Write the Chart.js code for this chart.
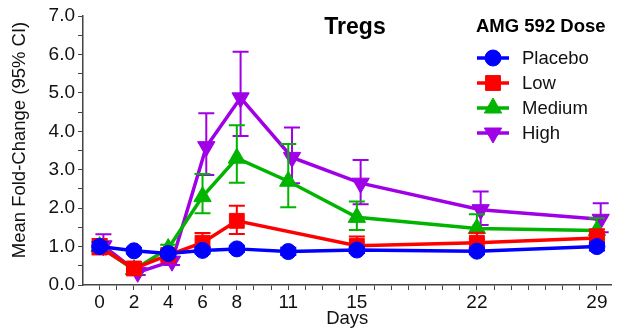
<!DOCTYPE html>
<html>
<head>
<meta charset="utf-8">
<title>Tregs</title>
<script src="https://cdn.jsdelivr.net/npm/chart.js@4.4.1/dist/chart.umd.min.js"></script>
<style>
  html, body { margin: 0; padding: 0; background: #fff; }
  #wrap { width: 623px; height: 330px; position: relative; }
</style>
</head>
<body>
<div id="wrap"><canvas id="tregChart"></canvas></div>
<script>
// ---- data ----
const days = [0, 2, 4, 6, 8, 11, 15, 22, 29];
const dayTickLabels = [0, 2, 4, 6, 8, 11, 15, 22, 29];
const doseNames = ['Placebo', 'Low', 'Medium', 'High'];
const doseColors = ['#0000ff', '#ff0000', '#00b400', '#a000e6'];
const doseDayShift = [0, 0, 0, 0.22]; // small horizontal dodge used in the figure

const placeboMean = [1.00, 0.89, 0.82, 0.90, 0.94, 0.87, 0.91, 0.88, 1.00];
const placeboLow  = [0.90, 0.82, 0.75, 0.82, 0.86, 0.78, 0.83, 0.80, 0.90];
const placeboHigh = [1.12, 0.97, 0.90, 0.98, 1.02, 0.97, 0.99, 0.96, 1.10];

const lowMean = [0.98, 0.43, 0.78, 1.10, 1.67, null, 1.02, 1.10, 1.22];
const lowLow  = [0.80, 0.36, 0.68, 0.90, 1.33, null, 0.84, 0.92, 1.04];
const lowHigh = [1.20, 0.52, 0.92, 1.35, 2.06, null, 1.26, 1.36, 1.45];

const mediumMean = [1.00, 0.40, 0.95, 2.30, 3.30, 2.70, 1.76, 1.47, 1.42];
const mediumLow  = [0.85, 0.32, 0.82, 1.87, 2.66, 2.02, 1.43, 1.20, 1.20];
const mediumHigh = [1.15, 0.48, 1.05, 2.89, 4.16, 3.67, 2.17, 1.84, 1.74];

const highMean = [1.02, 0.33, 0.62, 3.60, 4.87, 3.32, 2.65, 1.96, 1.71];
const highLow  = [0.82, 0.26, 0.52, 2.86, 3.88, 2.65, 2.10, 1.56, 1.37];
const highHigh = [1.32, 0.42, 0.72, 4.47, 6.07, 4.10, 3.25, 2.43, 2.13];

const yTickLabels = [0, 1, 2, 3, 4, 5, 6, 7];

const FONT = "'Liberation Sans', Arial, sans-serif";

function makeSeries(idx, mean, lo, hi, style, radius, rotation) {
    return {
        label: doseNames[idx],
        data: days.map((d, i) => ({ x: d + doseDayShift[idx], y: mean[i] })),
        lower: lo,
        upper: hi,
        borderColor: doseColors[idx],
        backgroundColor: doseColors[idx],
        borderWidth: 3.5,
        pointStyle: style,
        pointRadius: radius,
        pointRotation: rotation,
        pointBorderWidth: 1,
        spanGaps: true,
        tension: 0,
        clip: false
    };
}

const seriesList = [
    makeSeries(0, placeboMean, placeboLow, placeboHigh, 'circle', 8, 0),
    makeSeries(1, lowMean, lowLow, lowHigh, 'rect', 10.5, 0),
    makeSeries(2, mediumMean, mediumLow, mediumHigh, 'triangle', 10, 0),
    makeSeries(3, highMean, highLow, highHigh, 'triangle', 10, 180)
];

/* -------------------- PLUGINS -------------------- */

// 95% CI whiskers, drawn together with each series
const errorBars = {
    id: 'errorBars',
    afterDatasetDraw(chart, args) {
        const ds = chart.data.datasets[args.index];
        const { x, y } = chart.scales;
        const ctx = chart.ctx;
        ctx.save();
        ctx.strokeStyle = ds.borderColor;
        ctx.lineWidth = 2;
        ds.data.forEach((pt, i) => {
            if (pt.y == null || ds.lower[i] == null) return;
            const px = x.getPixelForValue(pt.x);
            const top = y.getPixelForValue(ds.upper[i]);
            const bot = y.getPixelForValue(ds.lower[i]);
            ctx.beginPath();
            ctx.moveTo(px, top); ctx.lineTo(px, bot);
            ctx.moveTo(px - 8, top); ctx.lineTo(px + 8, top);
            ctx.moveTo(px - 8, bot); ctx.lineTo(px + 8, bot);
            ctx.stroke();
        });
        ctx.restore();
    }
};

// Panel title, y-axis title (sits a little above centre in the figure) and the in-plot legend
const panelText = {
    id: 'panelText',
    afterDraw(chart) {
        const ctx = chart.ctx;
        ctx.save();
        ctx.fillStyle = '#000';
        ctx.textBaseline = 'alphabetic';
        ctx.textAlign = 'center';
        ctx.font = `bold 23px ${FONT}`;
        ctx.fillText('Tregs', 355, 34);

        ctx.save();
        ctx.translate(20, 140);
        ctx.rotate(-Math.PI / 2);
        ctx.textBaseline = 'middle';
        ctx.fillStyle = '#111';
        ctx.font = `18.5px ${FONT}`;
        ctx.fillText('Mean Fold-Change (95% CI)', 0, 0);
        ctx.restore();

        ctx.textAlign = 'left';
        ctx.font = `bold 18.5px ${FONT}`;
        ctx.fillText('AMG 592 Dose', 476, 32);

        ctx.font = `18.5px ${FONT}`;
        ctx.textBaseline = 'middle';
        chart.data.datasets.forEach((ds, i) => {
            const rowY = 58 + i * 25;
            ctx.strokeStyle = ds.borderColor;
            ctx.fillStyle = ds.backgroundColor;
            ctx.lineWidth = 3.5;
            ctx.beginPath();
            ctx.moveTo(477, rowY); ctx.lineTo(509, rowY);
            ctx.stroke();
            ctx.lineWidth = 1;
            Chart.helpers.drawPoint(ctx, {
                pointStyle: ds.pointStyle,
                rotation: ds.pointRotation,
                radius: ds.pointRadius,
                borderWidth: 1
            }, 493, rowY);
            ctx.fillStyle = '#111';
            ctx.fillText(ds.label, 522, rowY + 1);
        });
        ctx.restore();
    }
};

/* -------------------- CHART -------------------- */

new Chart(document.getElementById('tregChart'), {
    type: 'line',
    data: { datasets: seriesList },
    plugins: [errorBars, panelText],
    options: {
        responsive: true,
        maintainAspectRatio: false,
        devicePixelRatio: 1,
        animation: false,
        layout: { padding: { top: 16, right: 0, bottom: 0, left: 0 } },
        plugins: {
            legend: { display: false },
            tooltip: { enabled: false }
        },
        scales: {
            x: {
                type: 'linear',
                min: -0.97,
                max: 29.85,
                afterBuildTicks: (scale) => {
                    scale.ticks = [];
                    for (let d = 0; d <= 29; d++) scale.ticks.push({ value: d });
                },
                afterFit: (scale) => { scale.height = 45; },
                ticks: {
                    autoSkip: false,
                    maxRotation: 0,
                    padding: 1,
                    color: '#111',
                    font: { family: FONT, size: 19 },
                    callback: (v) => dayTickLabels.includes(v) ? String(v) : ''
                },
                grid: { drawOnChartArea: false, drawTicks: true, tickLength: 5, color: '#444' },
                border: { color: '#444', width: 1.5 },
                title: {
                    display: true,
                    text: 'Days',
                    color: '#111',
                    font: { family: FONT, size: 18.5 },
                    padding: { top: 0, bottom: 0 }
                }
            },
            y: {
                min: 0,
                max: 7,
                afterBuildTicks: (scale) => {
                    scale.ticks = [];
                    for (let v = 0; v <= 14; v++) scale.ticks.push({ value: v / 2 });
                },
                afterFit: (scale) => { scale.width = 83; },
                ticks: {
                    autoSkip: false,
                    padding: 3,
                    color: '#111',
                    font: { family: FONT, size: 19 },
                    callback: (v) => yTickLabels.includes(v) ? v.toFixed(1) : ''
                },
                grid: { drawOnChartArea: false, drawTicks: true, tickLength: 5, color: '#444' },
                border: { color: '#444', width: 1.5 }
            }
        }
    }
});
</script>
</body>
</html>
